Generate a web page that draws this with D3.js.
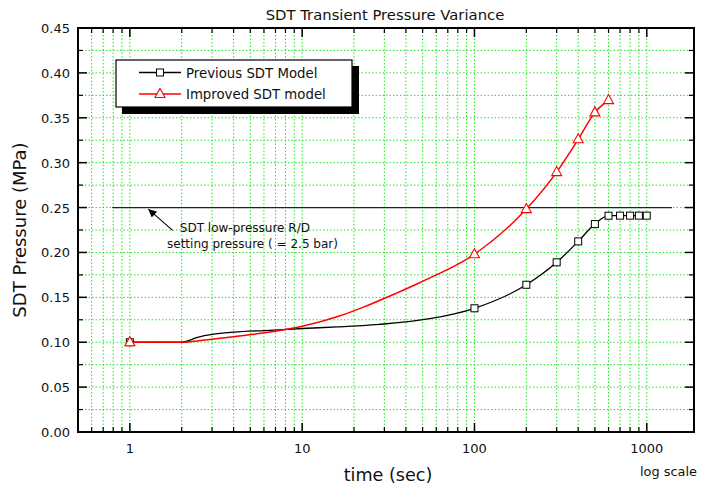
<!DOCTYPE html>
<html>
<head>
<meta charset="utf-8">
<script src="https://cdn.jsdelivr.net/npm/d3@7/dist/d3.min.js"></script>
<style>
  html, body { margin: 0; padding: 0; background: #fff; }
  svg { display: block; font-family: "DejaVu Sans", Verdana, sans-serif; }
</style>
</head>
<body>
<svg id="chart" width="701" height="495"></svg>
<script>
// Previous SDT model: pressure history (MPa) versus time (s)
const prevTime  = [1, 2, 2.5, 3, 4, 6.5, 10, 16, 28, 55, 100, 200, 300, 400, 500, 600, 700, 800, 900, 1000];
const prevValue = [0.100, 0.100, 0.1058, 0.1087, 0.1112, 0.1133, 0.1153, 0.1170, 0.1199, 0.1262,
                   0.1378, 0.164, 0.189, 0.2123, 0.2316, 0.2409, 0.241, 0.241, 0.241, 0.241];
const prevMarked = [1, 100, 200, 300, 400, 500, 600, 700, 800, 900, 1000];

// Improved SDT model
const impTime  = [1, 2, 2.66, 4.2, 6.5, 10, 16.6, 22.5, 35, 48, 100, 200, 300, 400, 500, 600];
const impValue = [0.100, 0.100, 0.1022, 0.1066, 0.1114, 0.1177, 0.1295, 0.1388, 0.1544, 0.1663,
                  0.198, 0.2483, 0.2895, 0.326, 0.356, 0.3697];
const impMarked = [1, 100, 200, 300, 400, 500, 600];

// Relief-valve setting pressure
const reliefTime  = [0.79, 1400];
const reliefValue = 0.25;

const xTickValues = [1, 10, 100, 1000];
const xTickLabels = ["1", "10", "100", "1000"];
const yTickValues = [0, 0.05, 0.10, 0.15, 0.20, 0.25, 0.30, 0.35, 0.40, 0.45];
const yMinorValues = [0.025, 0.075, 0.125, 0.175, 0.225, 0.275, 0.325, 0.375, 0.425];

const seriesNames = ["Previous SDT Model", "Improved SDT model"];

const svg = d3.select("#chart");
const L = 78, R = 694, T = 28, B = 432;

const x = d3.scaleLog().domain([0.5, 1880]).range([L, R]);
const y = d3.scaleLinear().domain([0, 0.45]).range([B, T]);

// minor log ticks (2..9 in every decade, plus 0.6..0.9)
const xMinor = [];
[0.1, 1, 10, 100].forEach(dec => {
  for (let k = 2; k <= 9; k++) {
    const v = dec * k;
    if (v > 0.5 && v < 1880 && !xTickValues.includes(v)) xMinor.push(v);
  }
});

const gridColor = "#1ee61e";
const grid = svg.append("g");
xMinor.concat(xTickValues).forEach(v => {
  grid.append("line")
    .attr("x1", x(v)).attr("x2", x(v)).attr("y1", T).attr("y2", B)
    .attr("stroke", gridColor).attr("stroke-width", 1).attr("stroke-dasharray", "1.5,2");
});
yTickValues.concat(yMinorValues).forEach(v => {
  if (v <= 0 || v >= 0.45) return;
  grid.append("line")
    .attr("x1", L).attr("x2", R).attr("y1", y(v)).attr("y2", y(v))
    .attr("stroke", gridColor).attr("stroke-width", 1).attr("stroke-dasharray", "1.5,2");
});

// axes: ticks point inward on all four sides
const MAJ = 9, MIN = 5;
const frame = svg.append("g").attr("stroke", "#000");
xTickValues.forEach(v => {
  frame.append("line").attr("x1", x(v)).attr("x2", x(v)).attr("y1", B).attr("y2", B - MAJ).attr("stroke-width", 1.5);
  frame.append("line").attr("x1", x(v)).attr("x2", x(v)).attr("y1", T).attr("y2", T + MAJ).attr("stroke-width", 1.5);
});
xMinor.forEach(v => {
  frame.append("line").attr("x1", x(v)).attr("x2", x(v)).attr("y1", B).attr("y2", B - MIN).attr("stroke-width", 1.2);
  frame.append("line").attr("x1", x(v)).attr("x2", x(v)).attr("y1", T).attr("y2", T + MIN).attr("stroke-width", 1.2);
});
yTickValues.forEach(v => {
  frame.append("line").attr("x1", L).attr("x2", L + MAJ).attr("y1", y(v)).attr("y2", y(v)).attr("stroke-width", 1.5);
  frame.append("line").attr("x1", R).attr("x2", R - MAJ).attr("y1", y(v)).attr("y2", y(v)).attr("stroke-width", 1.5);
});
yMinorValues.forEach(v => {
  frame.append("line").attr("x1", L).attr("x2", L + MIN).attr("y1", y(v)).attr("y2", y(v)).attr("stroke-width", 1.2);
  frame.append("line").attr("x1", R).attr("x2", R - MIN).attr("y1", y(v)).attr("y2", y(v)).attr("stroke-width", 1.2);
});
frame.append("rect").attr("x", L).attr("y", T).attr("width", R - L).attr("height", B - T)
  .attr("fill", "none").attr("stroke-width", 2);

// tick labels
svg.append("g").selectAll("text").data(xTickValues).join("text")
  .attr("x", d => x(d)).attr("y", 453).attr("text-anchor", "middle")
  .attr("font-size", 13).attr("fill", "#111")
  .text((d, i) => xTickLabels[i]);
svg.append("g").selectAll("text").data(yTickValues).join("text")
  .attr("x", 70).attr("y", d => y(d) + 5).attr("text-anchor", "end")
  .attr("font-size", 13).attr("fill", "#111")
  .text(d => d3.format(".2f")(d));

// titles
svg.append("text").attr("x", 385).attr("y", 20).attr("text-anchor", "middle")
  .attr("font-size", 14.8).attr("fill", "#111").text("SDT Transient Pressure Variance");
svg.append("text").attr("x", 388).attr("y", 481).attr("text-anchor", "middle")
  .attr("font-size", 17.6).attr("fill", "#111").text("time (sec)");
svg.append("text").attr("transform", "translate(26,230) rotate(-90)").attr("text-anchor", "middle")
  .attr("font-size", 18).attr("fill", "#111").text("SDT Pressure (MPa)");
svg.append("text").attr("x", 697).attr("y", 476).attr("text-anchor", "end")
  .attr("font-size", 12.9).attr("fill", "#111").text("log scale");

// setting-pressure reference line with annotation
svg.append("line")
  .attr("x1", x(reliefTime[0])).attr("x2", x(reliefTime[1]))
  .attr("y1", y(reliefValue)).attr("y2", y(reliefValue))
  .attr("stroke", "#222").attr("stroke-width", 1.2);

svg.append("defs").append("marker")
  .attr("id", "arrowhead").attr("viewBox", "0 0 10 10").attr("refX", 10).attr("refY", 5)
  .attr("markerWidth", 10).attr("markerHeight", 8).attr("markerUnits", "userSpaceOnUse")
  .attr("orient", "auto")
  .append("path").attr("d", "M0,0 L10,5 L0,10 Z").attr("fill", "#000");
svg.append("line")
  .attr("x1", x(1.77)).attr("y1", y(0.2245))
  .attr("x2", x(1.28)).attr("y2", y(0.2482))
  .attr("stroke", "#000").attr("stroke-width", 1.1).attr("marker-end", "url(#arrowhead)");
svg.append("text").attr("x", x(1.95)).attr("y", 232).attr("font-size", 12).attr("fill", "#111")
  .text("SDT low-pressure R/D");
svg.append("text").attr("x", 167).attr("y", 248).attr("font-size", 12).attr("fill", "#111")
  .text("setting pressure ( = 2.5 bar)");

// series lines
const line = d3.line().x(d => x(d[0])).y(d => y(d[1])).curve(d3.curveMonotoneX);
const prevPts = prevTime.map((t, i) => [t, prevValue[i]]);
const impPts = impTime.map((t, i) => [t, impValue[i]]);

svg.append("path").attr("d", line(prevPts)).attr("fill", "none")
  .attr("stroke", "#000").attr("stroke-width", 1.3);
svg.append("path").attr("d", line(impPts)).attr("fill", "none")
  .attr("stroke", "#ff0000").attr("stroke-width", 1.5);

const triPath = "M0,-5.5 L5,3.5 L-5,3.5 Z";
// markers
svg.append("g").selectAll("rect")
  .data(prevPts.filter(p => prevMarked.includes(p[0]))).join("rect")
  .attr("x", d => x(d[0]) - 3.5).attr("y", d => y(d[1]) - 3.5)
  .attr("width", 7).attr("height", 7)
  .attr("fill", "#fff").attr("stroke", "#000").attr("stroke-width", 1);
svg.append("g").selectAll("path")
  .data(impPts.filter(p => impMarked.includes(p[0]))).join("path")
  .attr("transform", d => `translate(${x(d[0])},${y(d[1])})`)
  .attr("d", triPath)
  .attr("fill", "#fff").attr("stroke", "#ff0000").attr("stroke-width", 1.1);

// legend with drop shadow
const lg = svg.append("g");
lg.append("rect").attr("x", 122).attr("y", 66).attr("width", 237).attr("height", 48).attr("fill", "#000");
lg.append("rect").attr("x", 116).attr("y", 60).attr("width", 236).attr("height", 47)
  .attr("fill", "#fff").attr("stroke", "#000").attr("stroke-width", 1.2);
const rows = [
  { name: seriesNames[0], color: "#000", y: 72.5, shape: "square" },
  { name: seriesNames[1], color: "#ff0000", y: 94, shape: "tri" }
];
rows.forEach(r => {
  lg.append("line").attr("x1", 139).attr("x2", 181).attr("y1", r.y).attr("y2", r.y)
    .attr("stroke", r.color).attr("stroke-width", r.shape === "tri" ? 1.5 : 1.3);
  if (r.shape === "square") {
    lg.append("rect").attr("x", 156.5).attr("y", r.y - 3.5).attr("width", 7).attr("height", 7)
      .attr("fill", "#fff").attr("stroke", "#000");
  } else {
    lg.append("path").attr("transform", `translate(160,${r.y})`).attr("d", triPath)
      .attr("fill", "#fff").attr("stroke", "#ff0000").attr("stroke-width", 1.1);
  }
  lg.append("text").attr("x", 186).attr("y", r.y + 5).attr("font-size", 13.3).attr("fill", "#111").text(r.name);
});
</script>
</body>
</html>
